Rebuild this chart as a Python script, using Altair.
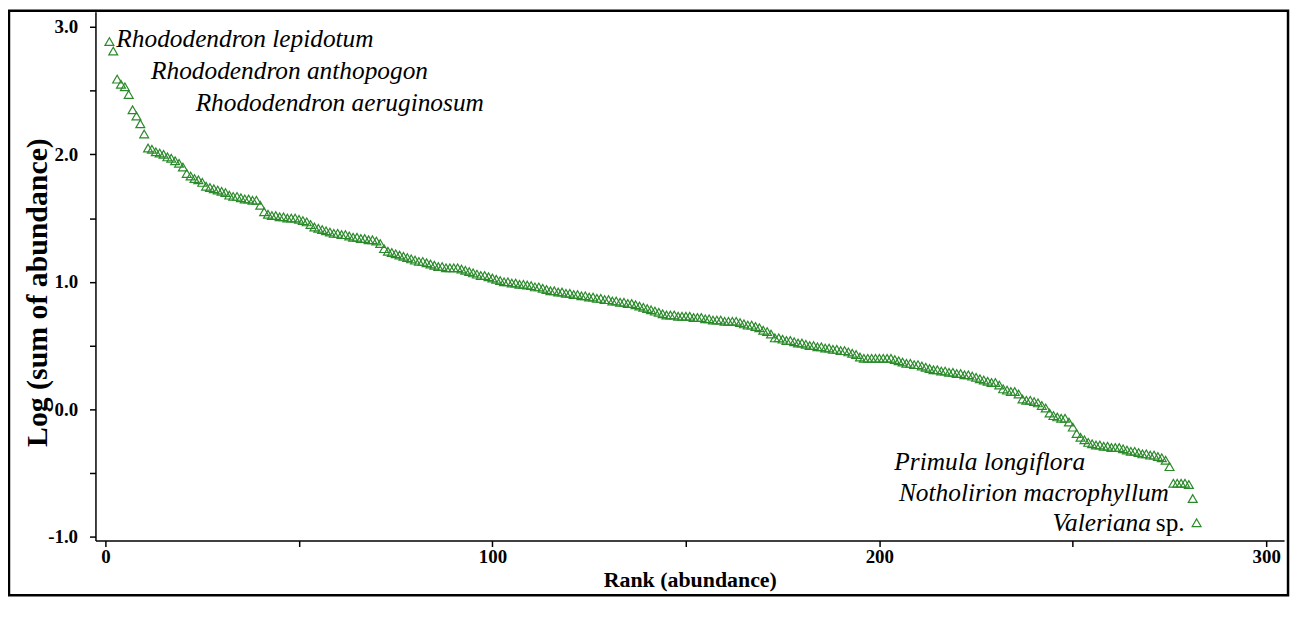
import altair as alt
import pandas as pd

# ---- data ----
ranks = list(range(1, 283))
log_abundance = [
    2.885, 2.81, 2.59, 2.55, 2.53, 2.47, 2.35, 2.30, 2.24, 2.16,
    2.05, 2.04, 2.02, 2.01, 2.00, 1.98, 1.97, 1.95, 1.93, 1.90,
    1.85, 1.83, 1.81, 1.80, 1.78, 1.75, 1.74, 1.73, 1.72, 1.71,
    1.70, 1.68, 1.67, 1.67, 1.66, 1.65, 1.65, 1.64, 1.64, 1.60,
    1.55, 1.53, 1.52, 1.52, 1.51, 1.51, 1.50, 1.50, 1.50, 1.49,
    1.48, 1.47, 1.45, 1.43, 1.42, 1.41, 1.40, 1.39, 1.38, 1.38,
    1.37, 1.37, 1.36, 1.35, 1.35, 1.34, 1.34, 1.33, 1.33, 1.32,
    1.30, 1.26, 1.24, 1.23, 1.22, 1.21, 1.20, 1.19, 1.18, 1.17,
    1.16, 1.16, 1.15, 1.14, 1.13, 1.12, 1.12, 1.11, 1.11, 1.11,
    1.11, 1.10, 1.09, 1.08, 1.07, 1.06, 1.05, 1.05, 1.04, 1.03,
    1.02, 1.01, 1.00, 1.00, 0.99, 0.99, 0.98, 0.98, 0.975, 0.97,
    0.96, 0.96, 0.95, 0.94, 0.93, 0.93, 0.92, 0.92, 0.91, 0.91,
    0.90, 0.90, 0.89, 0.89, 0.88, 0.88, 0.87, 0.87, 0.86, 0.86,
    0.85, 0.85, 0.84, 0.84, 0.83, 0.83, 0.82, 0.81, 0.80, 0.79,
    0.78, 0.77, 0.76, 0.75, 0.74, 0.74, 0.74, 0.73, 0.73, 0.73,
    0.73, 0.72, 0.72, 0.72, 0.71, 0.71, 0.70, 0.70, 0.70, 0.69,
    0.69, 0.69, 0.69, 0.68, 0.67, 0.66, 0.66, 0.65, 0.64, 0.62,
    0.61, 0.59, 0.56, 0.56, 0.55, 0.54, 0.54, 0.53, 0.52, 0.52,
    0.51, 0.50, 0.50, 0.49, 0.49, 0.48, 0.48, 0.47, 0.47, 0.46,
    0.46, 0.45, 0.44, 0.43, 0.41, 0.40, 0.40, 0.40, 0.40, 0.40,
    0.40, 0.40, 0.40, 0.39, 0.38, 0.37, 0.36, 0.36, 0.35, 0.35,
    0.34, 0.33, 0.32, 0.31, 0.31, 0.30, 0.30, 0.29, 0.29, 0.28,
    0.28, 0.27, 0.27, 0.26, 0.25, 0.24, 0.23, 0.22, 0.21, 0.21,
    0.19, 0.16, 0.15, 0.14, 0.14, 0.12, 0.08, 0.07, 0.07, 0.06,
    0.05, 0.03, 0.01, -0.03, -0.05, -0.06, -0.07, -0.07, -0.10, -0.14,
    -0.19, -0.22, -0.24, -0.26, -0.27, -0.28, -0.28, -0.29, -0.29, -0.30,
    -0.30, -0.30, -0.31, -0.32, -0.33, -0.33, -0.34, -0.35, -0.35, -0.36,
    -0.36, -0.37, -0.38, -0.40, -0.45, -0.58, -0.58, -0.58, -0.58, -0.59,
    -0.70, -0.89,
]
x_ticks = [0, 50, 100, 150, 200, 250, 300]
y_ticks = [-1.0, -0.5, 0.0, 0.5, 1.0, 1.5, 2.0, 2.5, 3.0]

# annotation texts and the rank of the species each one points at
label_texts = ["Rhododendron lepidotum", "Rhododendron anthopogon", "Rhododendron aeruginosum",
               "Primula longiflora", "Notholirion macrophyllum", "Valeriana", "sp."]
label_ranks = [1, 2, 3, 275, 281, 282, 282]

df = pd.DataFrame({"rank": ranks, "log_abund": log_abundance})

FONT = "Liberation Serif"
GREEN = "#2a8a2a"

x_scale = alt.Scale(domain=[-2.6, 304.6], nice=False, zero=False)
y_scale = alt.Scale(domain=[-1.03, 3.118], nice=False, zero=False)

X = alt.X(
    "rank:Q", scale=x_scale,
    axis=alt.Axis(
        values=x_ticks, title="Rank (abundance)", grid=False,
        labelExpr="datum.value % 100 == 0 ? format(datum.value, 'd') : ''",
        labelFont=FONT, labelFontWeight="bold", labelFontSize=19, labelColor="black",
        labelPadding=1, tickSize=6, tickColor="black", tickWidth=1.5,
        domainColor="black", domainWidth=1.5,
        titleFont=FONT, titleFontWeight="bold", titleFontSize=22, titleColor="black",
        titlePadding=3,
    ),
)
Y = alt.Y(
    "log_abund:Q", scale=y_scale,
    axis=alt.Axis(
        values=y_ticks, title="Log (sum of abundance)", grid=False,
        labelExpr="datum.value % 1 == 0 ? (datum.value < 0 ? '-' + format(abs(datum.value), '.1f') : format(datum.value, '.1f')) : ''",
        labelFont=FONT, labelFontWeight="bold", labelFontSize=19, labelColor="black",
        labelPadding=12, tickSize=6, tickColor="black", tickWidth=1.5,
        domainColor="black", domainWidth=1.5,
        titleFont=FONT, titleFontWeight="bold", titleFontSize=30, titleColor="black",
        titleX=-58, titleY=282, titleBaseline="middle", titleAngle=270,
    ),
)

points = alt.Chart(df).mark_point(
    shape="triangle-up", filled=False, color=GREEN, size=80, strokeWidth=1.2, opacity=1
).encode(x=X, y=Y)

# label styles: (dx, dy, align, fontStyle)
label_styles = [
    (7, -3, "left", "italic"),
    (38, 20, "left", "italic"),
    (79, 24, "left", "italic"),
    (-85, -5, "right", "italic"),
    (-24, -5, "right", "italic"),
    (-46, 0, "right", "italic"),
    (-12, 0, "right", "normal"),
]

layers = [points]
for txt, rk, (dx, dy, al, fs) in zip(label_texts, label_ranks, label_styles):
    layers.append(
        alt.Chart(df).transform_filter(alt.datum.rank == rk).mark_text(
            text=txt, dx=dx, dy=dy, align=al, baseline="middle",
            font=FONT, fontSize=25.5, fontStyle=fs, color="black",
        ).encode(x=X, y=Y)
    )

frame = alt.Chart(pd.DataFrame({"a": [0]})).mark_rect(
    fill=None, stroke="black", strokeWidth=2.5
).encode(x=alt.value(-87), x2=alt.value(1200), y=alt.value(-1), y2=alt.value(587))
layers.append(frame)

chart = alt.layer(*layers).properties(
    width=1196, height=532,
    autosize=alt.AutoSizeParams(type="none"),
    padding={"left": 88, "top": 2, "right": 9, "bottom": 70},
    background="white",
).configure_view(stroke=None)

chart.save("out.html", embed_options={"renderer": "svg", "actions": False})
